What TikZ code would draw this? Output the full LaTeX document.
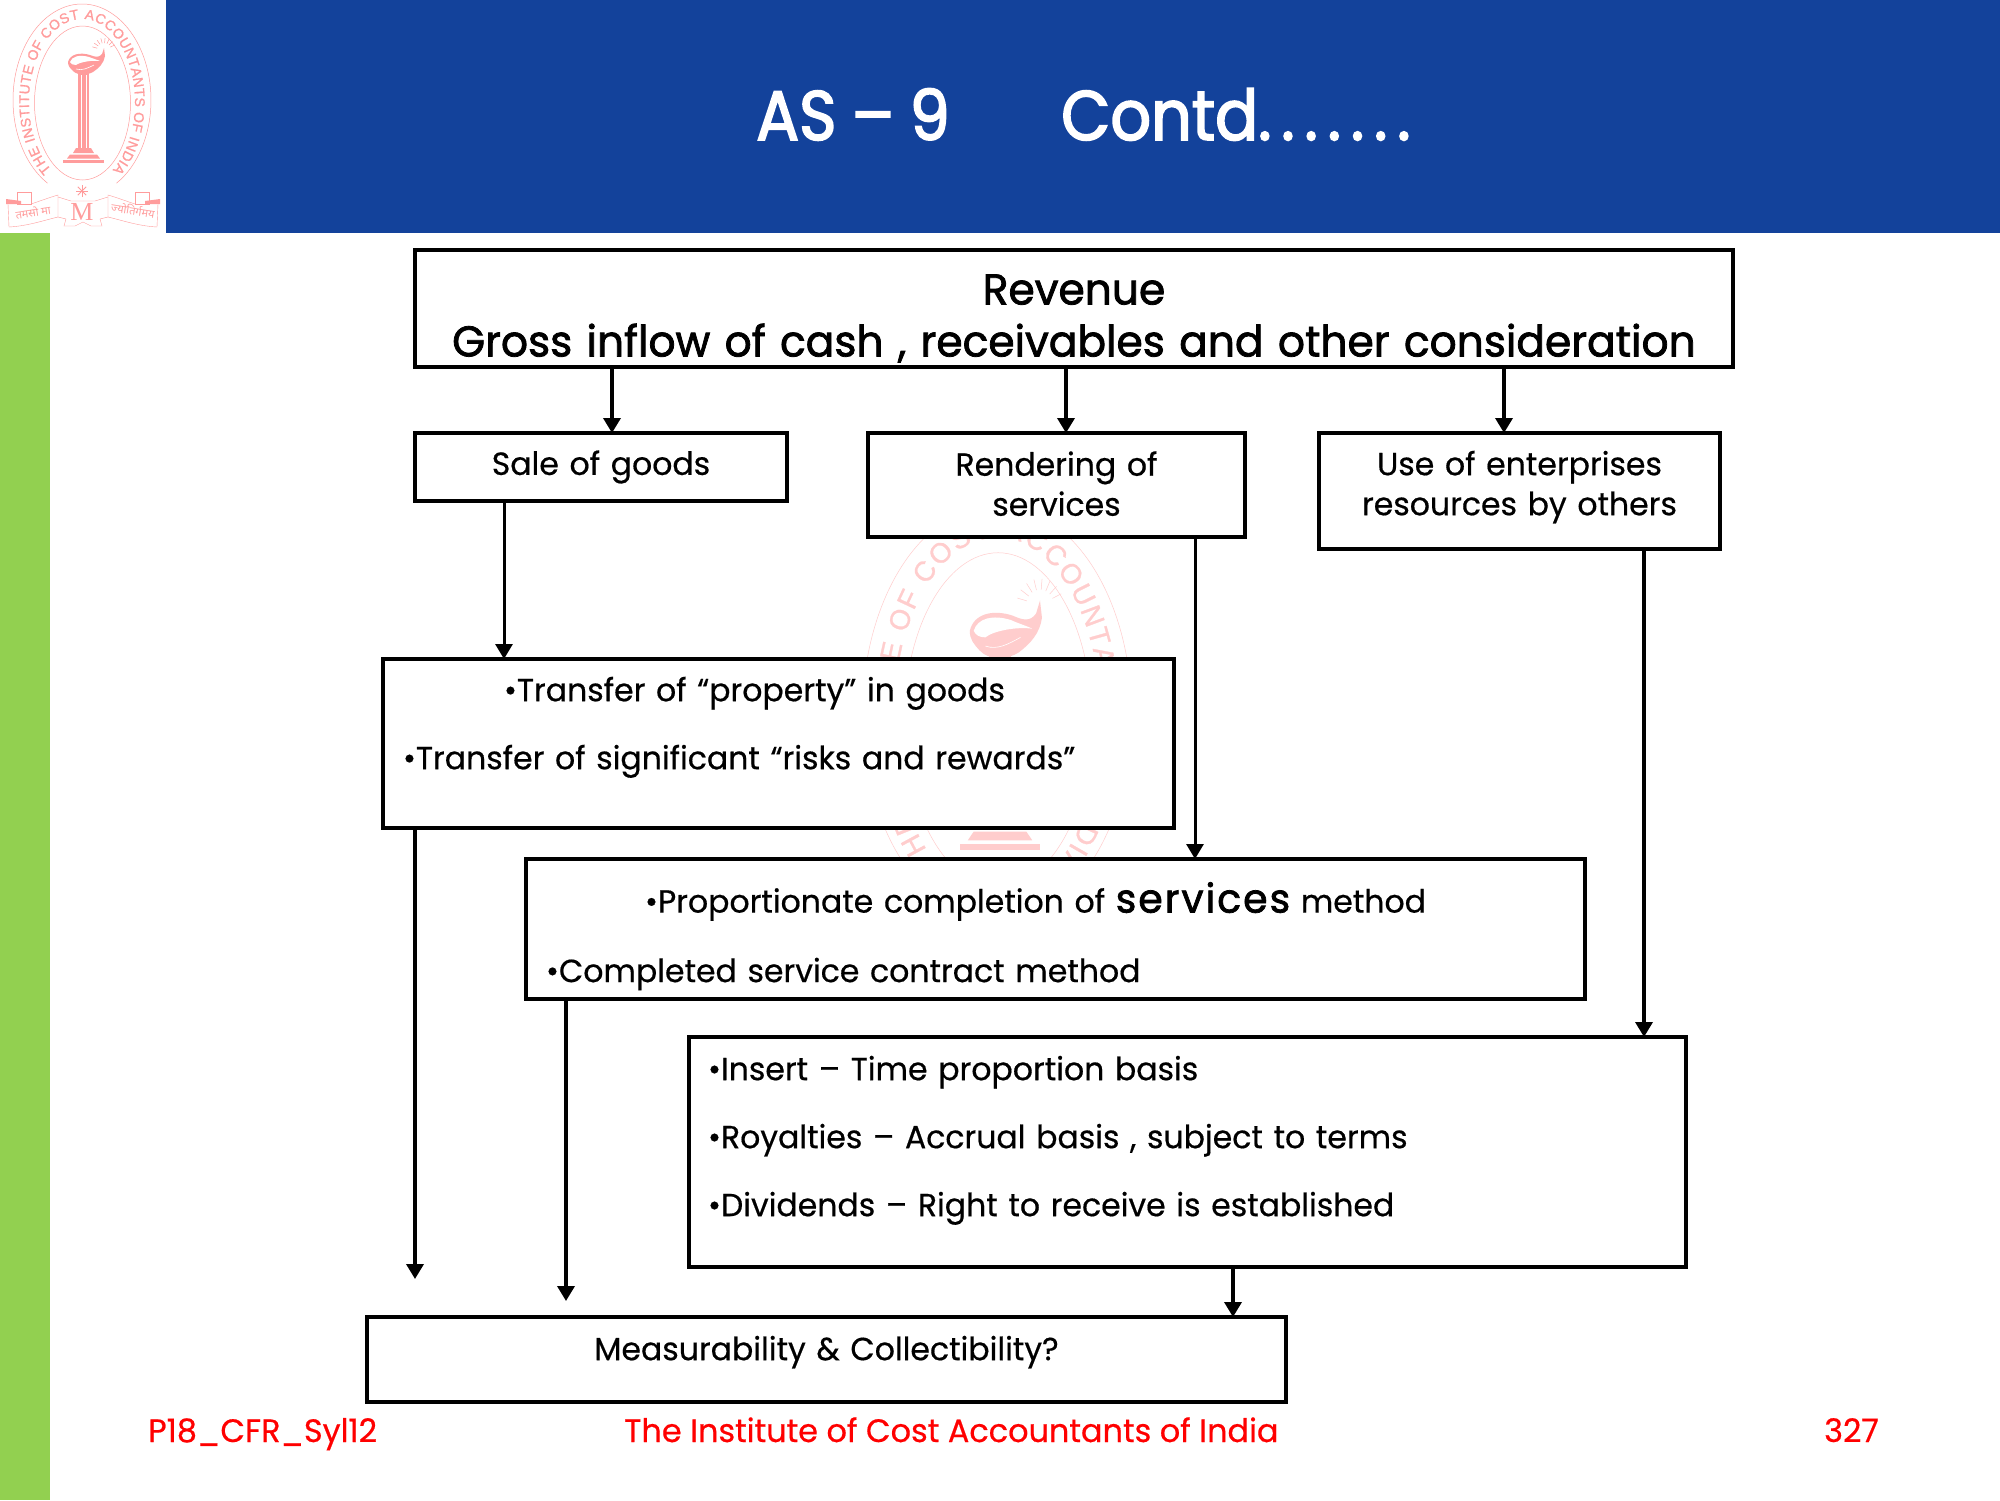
\documentclass[tikz,border=0pt]{standalone}
\usepackage{fontspec}
\usepackage{xcolor}
\usetikzlibrary{arrows.meta,decorations.text}
\setmainfont{Poppins}[FakeStretch=0.985,FakeBold=0.5]
\newfontfamily\heavyfont{Poppins}[FakeStretch=0.985,FakeBold=1.8]
\newfontfamily\titlefont{Poppins}[FakeStretch=0.91,FakeBold=2.4]
\newfontfamily\ringfont{Liberation Sans}[FakeBold=1]
\newfontfamily\motofont[Script=Devanagari]{Noto Sans}
\newfontfamily\crestfont{Liberation Serif}
\definecolor{headblue}{HTML}{13429B}
\definecolor{sidegreen}{HTML}{92D050}
\definecolor{logopink}{HTML}{FF9C9C}
\definecolor{markpink}{HTML}{FFCDCD}

\tikzset{
  box/.style = {draw, line width=4pt, outer sep=0pt, fill=white, inner xsep=0pt, inner ysep=0pt, align=center, font=\fontsize{32}{40}\selectfont},
  bigbox/.style = {box, font=\heavyfont\fontsize{43}{52}\selectfont},
  listbox/.style = {box, align=left},
  arw/.style = {line width=3.5pt, -{Triangle[length=15pt,width=17pt]}},
  thinarw/.style = {arw, line width=3pt},
  foot/.style = {anchor=base west, text=red, inner sep=0pt, font=\fontsize{32.4}{38}\selectfont},
  headline/.style = {anchor=base west, text=white, inner sep=0pt, font=\titlefont\fontsize{70}{80}\selectfont},
}

% room above the first line and below the last line of a box
\newcommand{\padtop}[1]{\rule{0pt}{#1}}
\newcommand{\padlow}[1]{\rule[-#1]{0pt}{#1}}

% crest: #1 colour, #2 size of the ring letters, #3 size of the ribbon letters, #4 size of the motto
\newcommand{\drawcrest}[4]{
  \draw[#1, line width=0.5pt] (82,100) ++(120:69 and 96) arc[start angle=120, end angle=420, x radius=69, y radius=96];
  \draw[#1, line width=0.5pt] (82.5,103) ellipse[x radius=48, y radius=77];
  \path[decorate, decoration={text along path, text align={fit to path},
      text={|\ringfont\fontsize{#2}{#2}\selectfont\color{#1}|THE INSTITUTE OF COST ACCOUNTANTS OF INDIA}}]
    (82,102) ++(125:53 and 83) arc[start angle=125, end angle=415, x radius=53, y radius=83];
  % lamp
  \fill[#1] (68,62) .. controls (70,54) and (80,52) .. (90,55) .. controls (95,57) and (99,58) .. (102,54)
    -- (104,48) -- (105,56) .. controls (104,63) and (99,68) .. (93,72) .. controls (88,75) and (78,76) .. (73,71) .. controls (70,68) and (68,66) .. (68,62) -- cycle;
  \fill[white] (70,62) .. controls (72,56) and (80,54.5) .. (89,57) .. controls (94,59) and (98,60) .. (100,61) .. controls (92,60) and (80,62) .. (76,65) .. controls (73,65) and (71,64) .. (70,62) -- cycle;
  \draw[white, line width=0.6pt] (76,69) .. controls (82,71) and (88,68) .. (94,65);
  \foreach \a in {195,215,...,345} {\draw[#1, line width=0.5pt] (104,50) ++(\a:7) -- ++(\a:5);}
  % pillar and steps
  \fill[#1] (78,73) rectangle (89,148);
  \fill[white] (80.5,75) rectangle (81.5,148);
  \fill[white] (85.5,75) rectangle (86.5,148);
  \fill[#1] (76,148) -- (91,148) -- (94,153) -- (73,153) -- cycle;
  \fill[#1] (70,154.5) -- (97,154.5) -- (100,158.5) -- (67,158.5) -- cycle;
  \fill[#1] (63,160) rectangle (104,163);
  % star
  \foreach \a in {0,45,...,315} {\draw[#1, line width=0.9pt] (82,191) -- ++(\a:6);}
  % ribbon
  \foreach \m in {1,-1} {
  \begin{scope}[shift={(83,0)}, xscale=\m]
    \draw[#1, line width=0.4pt] (-52,204) .. controls (-40,200) and (-35,198) .. (-25,195) -- (-25,217) .. controls (-38,220) and (-55,226) .. (-74,227) -- (-75,204);
    \fill[#1] (-77,199) -- (-62,201) -- (-62,204) -- (-77,204) -- cycle;
    \draw[#1, line width=0.5pt] (-66,192) rectangle (-52,204);
    \draw[#1, line width=0.4pt] (-25,197) -- (-12,201) -- (0,201);
    \draw[#1, line width=0.4pt] (-25,217) -- (-17,219) -- (-19,226) -- (-8,226) -- (0,222);
  \end{scope}
  }
  \node[text=#1, inner sep=0pt, font=\crestfont\fontsize{#3}{#3}\selectfont] (m_letter) at (82,212) {M};
  \node[text=#1, inner sep=0pt, rotate=9, font=\motofont\fontsize{#4}{#4}\selectfont] (m_left) at (33,212) {तमसो मा};
  \node[text=#1, inner sep=0pt, rotate=-9, font=\motofont\fontsize{#4}{#4}\selectfont] (m_right) at (133,210) {ज्योतिर्गमय};
}

\begin{document}
\begin{tikzpicture}[x=1pt, y=-1pt]
  \useasboundingbox (0,0) rectangle (2000,1500);
  \fill[white] (0,0) rectangle (2000,1500);
  \fill[headblue] (166,0) rectangle (2000,233);
  \fill[sidegreen] (0,233) rectangle (50,1500);

  \begin{scope}
    \drawcrest{logopink}{14}{26}{11}
  \end{scope}
  \begin{scope}[shift={(837.2,496.3)}, xscale=1.95, yscale=2.17]
    \drawcrest{markpink}{28}{52}{22}
  \end{scope}

  \node[headline] (t_as) at (756,140) {AS\hspace{-2pt} – \hspace{-2pt}9};
  \node[headline] (t_contd) at (1061,140) {Contd{\addfontfeature{LetterSpace=14}.......}};

  \node[bigbox, text width=1318pt, minimum height=117pt] (n_rev) at (1074,308.5) {\padtop{50pt}Revenue\\Gross inflow of cash , receivables and other consideration};
  \node[box, text width=372pt, minimum height=68pt] (n_sale) at (601,467) {Sale of goods};
  \node[box, text width=377pt, minimum height=104pt] (n_rend) at (1056.5,485) {Rendering of\\services\padlow{3pt}};
  \node[box, text width=401pt, minimum height=116pt] (n_use) at (1519.5,491) {Use of enterprises\\resources by others\padlow{16pt}};

  \node[listbox, text width=791pt, minimum height=169pt] (n_trans) at (778.5,743.5) {\hspace*{121pt}•Transfer of “property” in goods\\[28pt]\hspace*{20pt}•Transfer of significant “risks and rewards”\padlow{41pt}};
  \node[listbox, text width=1059pt, minimum height=140pt] (n_prop) at (1055.5,929) {\padtop{45pt}\hspace*{119pt}•Proportionate completion of {\heavyfont\addfontfeature{LetterSpace=5}\fontsize{40}{40}\selectfont services} method\\[29.5pt]\hspace*{20pt}•Completed service contract method};
  \node[listbox, text width=997pt, minimum height=230pt] (n_ins) at (1187.5,1152) {\hspace*{19pt}•Insert – Time proportion basis\\[28pt]\hspace*{19pt}•Royalties – Accrual basis , subject to terms\\[28pt]\hspace*{19pt}•Dividends – Right to receive is established\padlow{32pt}};
  \node[box, text width=919pt, minimum height=85pt] (n_meas) at (826.5,1359.5) {Measurability \& Collectibility?\padlow{23pt}};

  \coordinate (c_sale_end) at (415,1279);
  \coordinate (c_serv_end) at (566,1301);

  \draw[arw] ([xshift=197pt]n_rev.south west) -- ([xshift=197pt]n_sale.north west);
  \draw[arw] ([xshift=651pt]n_rev.south west) -- ([xshift=198pt]n_rend.north west);
  \draw[arw] ([xshift=1089pt]n_rev.south west) -- ([xshift=185pt]n_use.north west);
  \draw[thinarw] ([xshift=89pt]n_sale.south west) -- ([xshift=121pt]n_trans.north west);
  \draw[thinarw] ([xshift=327pt]n_rend.south west) -- ([xshift=669pt]n_prop.north west);
  \draw[arw] ([xshift=325pt]n_use.south west) -- ([xshift=955pt]n_ins.north west);
  \draw[arw] ([xshift=32pt]n_trans.south west) -- (c_sale_end);
  \draw[arw] ([xshift=40pt]n_prop.south west) -- (c_serv_end);
  \draw[arw] ([xshift=544pt]n_ins.south west) -- ([xshift=866pt]n_meas.north west);

  \node[foot] (f_code) at (148,1442) {P18\_CFR\_Syl12};
  \node[foot] (f_inst) at (624,1442) {The Institute of Cost Accountants of India};
  \node[foot] (f_page) at (1824,1442) {327};
\end{tikzpicture}
\end{document}
